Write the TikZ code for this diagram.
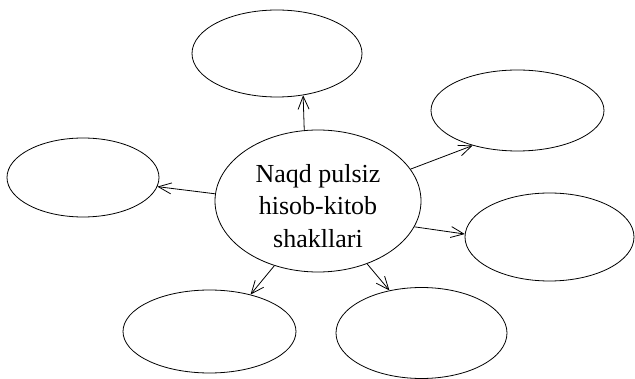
\documentclass[tikz,border=0pt]{standalone}
\usepackage{fontspec}
\setmainfont{Liberation Serif}
\usetikzlibrary{arrows.meta,shapes.geometric}
\tikzset{
  bubble/.style={draw=black, line width=0.8pt, ellipse, inner sep=0pt},
  hub/.style={bubble, minimum width=206pt, minimum height=142pt},
  hubtext/.style={align=center, inner sep=0pt, font=\fontsize{26}{32.5}\selectfont},
  spoke/.style={line width=0.8pt, -{Straight Barb[length=13pt, width=11pt, line width=0.8pt]}}
}
\begin{document}
\begin{tikzpicture}[x=1pt, y=-1pt]
  \useasboundingbox (0,0) rectangle (635,379);
  % central topic
  \node[hub] (c) at (318,201) {};
  \node[hubtext] (ctext) at ([yshift=-5pt]c.center) {Naqd pulsiz\\hisob-kitob\\shakllari};
  % surrounding empty bubbles
  \node[bubble, minimum width=170pt, minimum height=87pt] (top) at (277,53.5) {};
  \node[bubble, minimum width=173pt, minimum height=81pt] (ur) at (517.5,110.5) {};
  \node[bubble, minimum width=152pt, minimum height=79pt] (lf) at (83,177.5) {};
  \node[bubble, minimum width=169pt, minimum height=88pt] (rt) at (549.5,237) {};
  \node[bubble, minimum width=173pt, minimum height=83pt] (bl) at (209.5,331.5) {};
  \node[bubble, minimum width=171pt, minimum height=91pt] (br) at (421.5,333) {};
  % spokes
  \draw[spoke] (c.101.9) -- (top.-58.8);
  \draw[spoke] (c.19.7) -- (ur.218.7);
  \draw[spoke] (c.176.7) -- (lf.-7.2);
  \draw[spoke] (c.-15.2) -- (rt.178.6);
  \draw[spoke] (c.236.5) -- (bl.42.2);
  \draw[spoke] (c.-52) -- (br.127.9);
\end{tikzpicture}
\end{document}
